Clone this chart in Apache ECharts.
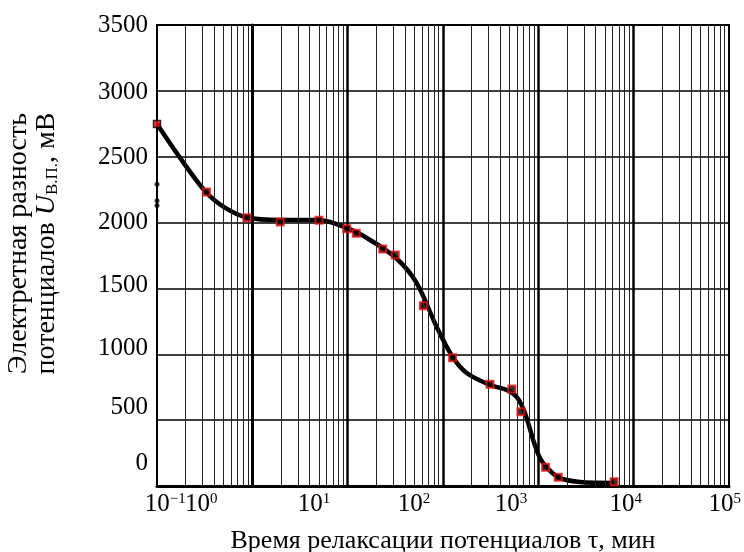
<!DOCTYPE html>
<html>
<head>
<meta charset="utf-8">
<script src="https://cdn.jsdelivr.net/npm/echarts@6/dist/echarts.min.js"></script>
<style>
html,body{margin:0;padding:0;background:#fff;}
#chart{width:744px;height:552px;}
</style>
</head>
<body>
<div id="chart"></div>
<script>
// Relaxation time, min (measured points)
const markerTime = [0.1, 0.33, 0.88, 1.96, 5.0, 9.8, 12.3, 23.3, 31.6, 62.2, 126, 311, 528, 657, 1192, 1616, 6240];
// Electret potential difference, mV (measured points)
const markerU = [2748, 2232, 2037, 2004, 2017, 1954, 1918, 1799, 1754, 1369, 974, 772, 736, 564, 142, 66, 33];

// Fitted curve
const curveTime = [0.1, 0.175, 0.326, 0.52, 0.877, 1.96, 4.98, 9.8, 17.2, 32.2, 53, 85.9, 126.4, 177, 311, 465, 592, 723, 1039, 1603, 2729, 6194];
const curveU = [2748, 2490, 2232, 2111, 2038, 2019, 2019, 1959, 1868, 1731, 1541, 1207, 979, 858, 767, 729, 676, 554, 213, 68, 30, 23];

// Small dots on the left axis
const dotTime = [0.1, 0.1, 0.1];
const dotU = [2290, 2165, 2130];

// Tick labels (as drawn in the figure)
const xTickExp = ['−1', '0', '1', '2', '3', '4', '5'];
const xTickAt = [-0.913, -0.536, 0.648, 1.696, 2.713, 3.918, 4.955];
const yTickLabels = ['0', '500', '1000', '1500', '2000', '2500', '3000', '3500'];
const yTickAt = [170, 600, 1045, 1520, 2000, 2495, 2990, 3500];

const FONT = 'Liberation Serif';

// log-grid lines (axis structure)
const vLines = [];
for (let d = -1; d <= 4; d++) {
  for (let m = 1; m <= 9; m++) {
    if (d === -1 && m === 1) continue;
    const v = m * Math.pow(10, d);
    vLines.push({
      xAxis: v,
      lineStyle: m === 1 ? {color: '#000', width: 2.5, type: 'solid'} : {color: '#222', width: 1, type: 'solid'}
    });
  }
}

// split label positions over two overlaid axes so adjacent labels never collide
function labelAxis(parity, withName) {
  const at = xTickAt.filter((v, i) => i % 2 === parity);
  const ax = {
    type: 'value', min: -1, max: 5, position: 'bottom',
    axisLine: {show: false}, axisTick: {show: false}, splitLine: {show: false},
    axisLabel: {
      show: true, margin: 6, hideOverlap: false,
      customValues: at,
      formatter: function (v) {
        const i = xTickAt.indexOf(v);
        return i < 0 ? '' : '{b|10}{s|' + xTickExp[i] + '}';
      },
      rich: {
        b: {fontFamily: FONT, fontSize: 25, color: '#000'},
        s: {fontFamily: FONT, fontSize: 15, color: '#000', verticalAlign: 'top'}
      }
    }
  };
  if (withName) {
    ax.name = 'Время релаксации потенциалов τ, мин';
    ax.nameLocation = 'middle';
    ax.nameGap = 42;
    ax.nameTextStyle = {fontFamily: FONT, fontSize: 26, color: '#000'};
  }
  return ax;
}

const chart = echarts.init(document.getElementById('chart'), null, {renderer: 'canvas'});
const option = {
  animation: false,
  backgroundColor: '#fff',
  grid: {left: 157, right: 15, top: 25, bottom: 66, show: true, borderColor: '#000', borderWidth: 2,
         backgroundColor: 'transparent', containLabel: false, outerBoundsMode: 'none'},
  xAxis: [
    {
      type: 'log', logBase: 10, min: 0.1, max: 100000, position: 'bottom',
      axisLine: {show: true, onZero: false, lineStyle: {color: '#000', width: 3}},
      axisTick: {show: false}, axisLabel: {show: false},
      splitLine: {show: false}, minorSplitLine: {show: false}
    },
    labelAxis(0, true),
    labelAxis(1, false)
  ],
  yAxis: {
    type: 'value', min: 0, max: 3500, interval: 500,
    axisLine: {show: true, lineStyle: {color: '#000', width: 3}},
    axisTick: {show: false},
    splitLine: {show: true, lineStyle: {color: '#000', width: 1.5}},
    axisLabel: {
      show: true, margin: 9, fontFamily: FONT, fontSize: 25, color: '#000',
      hideOverlap: false,
      customValues: yTickAt,
      formatter: function (v) {
        const i = yTickAt.indexOf(v);
        return i < 0 ? '' : yTickLabels[i];
      }
    },
    name: 'Электретная разность\nпотенциалов {i|U}{sub|В.П.}, мВ',
    nameLocation: 'middle', nameGap: 96,
    nameTextStyle: {
      fontFamily: FONT, fontSize: 28, color: '#000', lineHeight: 28,
      padding: [0, 0, 0, 24],
      rich: {
        i: {fontFamily: FONT, fontSize: 28, fontStyle: 'italic', color: '#000'},
        sub: {fontFamily: FONT, fontSize: 17, color: '#000', verticalAlign: 'bottom'}
      }
    }
  },
  series: [
    {
      type: 'line', xAxisIndex: 0, data: [], z: 1, silent: true,
      markLine: {
        silent: true, symbol: ['none', 'none'], label: {show: false},
        animation: false, data: vLines
      }
    },
    {
      type: 'line', xAxisIndex: 0, z: 3, smooth: 0.3,
      symbol: 'none', lineStyle: {color: '#000', width: 4.5},
      data: curveTime.map((t, i) => [t, curveU[i]])
    },
    {
      type: 'scatter', xAxisIndex: 0, z: 4, symbol: 'circle', symbolSize: 5,
      itemStyle: {color: '#000'},
      data: dotTime.map((t, i) => [t, dotU[i]])
    },
    {
      type: 'scatter', xAxisIndex: 0, z: 5, symbol: 'rect', symbolSize: 7,
      itemStyle: {color: '#000', borderColor: '#ee1111', borderWidth: 2},
      data: markerTime.map((t, i) => i === 0
        ? {value: [t, markerU[i]], itemStyle: {color: '#ee1111', borderColor: '#000', borderWidth: 1.5}}
        : [t, markerU[i]])
    }
  ]
};
chart.setOption(option);
</script>
</body>
</html>
